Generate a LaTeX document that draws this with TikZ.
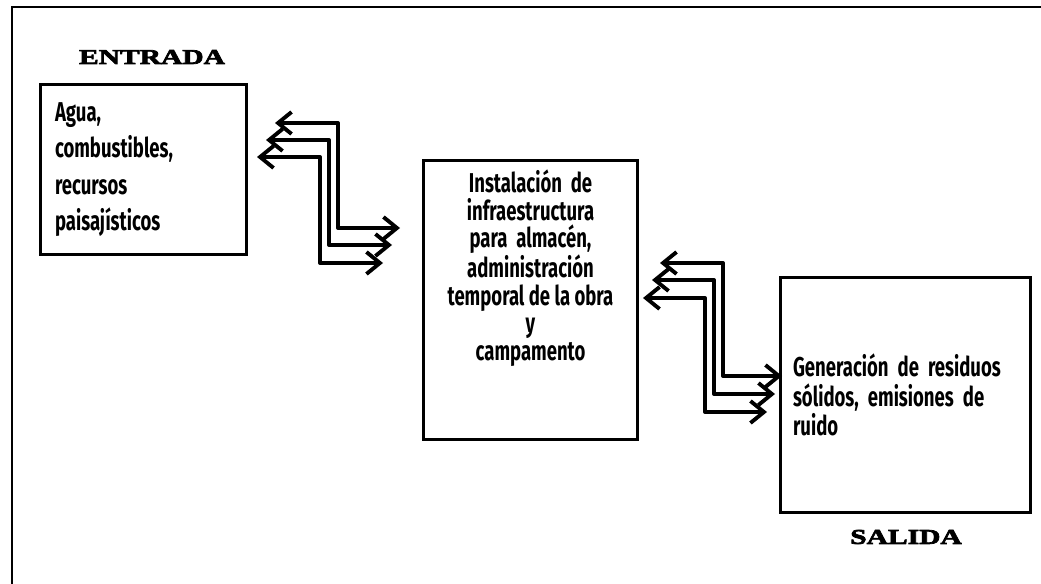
\documentclass[tikz,border=0pt]{standalone}
\usepackage{fontspec}
\usetikzlibrary{arrows.meta,positioning}
\newfontfamily\agency{Fira Sans}[FakeStretch=0.68]
\newfontfamily\heavyserif{Liberation Serif}[FakeStretch=1.4,FakeBold=3.5]
\begin{document}
\begin{tikzpicture}[x=0.02cm,y=-0.02cm,
        box/.style={draw,line width=1.7pt,inner xsep=0.3cm,align=left},
        boxtext/.style={font=\agency\bfseries\fontsize{15.5}{18.2}\selectfont},
        title/.style={font=\heavyserif\bfseries\fontsize{12}{14}\selectfont},
        flow/.style={<->,line width=2.2pt,line join=round,
            >={Straight Barb[length=0.27cm,width=0.44cm,line width=2.2pt]}}]
        \useasboundingbox (0,0) rectangle (1041,584);

        % frame
        \draw[line width=1.1pt] (12,584) -- (12,7) -- (1041,7);

        \node[title] (entrada) at (152,57) {ENTRADA};
        \node[box,boxtext,minimum width=4.14cm,minimum height=3.42cm,text width=3.54cm,
            font=\agency\bfseries\fontsize{15.5}{20.8}\selectfont] (inbox) at (143.5,169.5)
            {Agua,\\combustibles,\\recursos\\paisajísticos};

        \node[draw,line width=1.7pt,minimum width=4.3cm,minimum height=5.6cm] (obra) at (530.5,300) {};
        \node[boxtext,align=center,inner sep=0pt,font=\agency\bfseries\fontsize{15.5}{15.6}\selectfont,below=0.22cm of obra.north] (obratext)
            {Instalación\ \ de\\infraestructura\\para\ \ almacén,\\administración\\temporal de la obra\\y\\campamento};

        \node[box,boxtext,minimum width=4.9cm,minimum height=4.72cm,text width=4.5cm,inner xsep=0.25cm,
            font=\agency\bfseries\fontsize{15.5}{16.8}\selectfont] (outbox) at (905.5,395)
            {Generación de residuos\\sólidos, emisiones de\\ruido};
        \node[title] (salida) at (906,537) {SALIDA};

        % arrows entrada - obra
        \foreach \n/\lx/\ly/\vx/\rx/\ry in {1/275/123/338/400/228,2/266/140/329/392/245,3/257/157/320/383/263} {
            \coordinate (inL\n) at (\lx,\ly);
            \coordinate (inR\n) at (\rx,\ry);
            \draw[flow] (inL\n) -| (\vx,\ry) -- (inR\n);
        }
        % arrows obra - salida
        \foreach \n/\lx/\ly/\vx/\rx/\ry in {1/660/263/723/782/376,2/652/280/714/775/394,3/643/298/705/767/412} {
            \coordinate (outL\n) at (\lx,\ly);
            \coordinate (outR\n) at (\rx,\ry);
            \draw[flow] (outL\n) -| (\vx,\ry) -- (outR\n);
        }
    \end{tikzpicture}
\end{document}
